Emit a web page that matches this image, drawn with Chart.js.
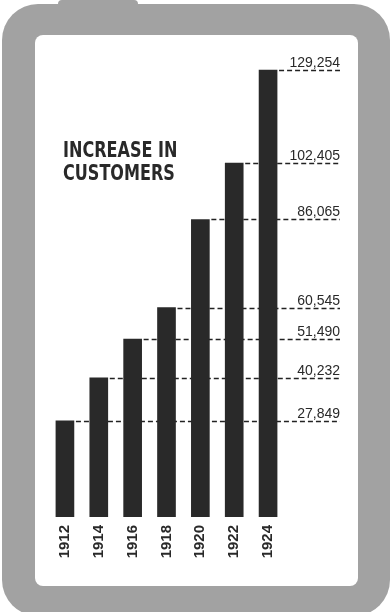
<!DOCTYPE html>
<html>
<head>
<meta charset="utf-8">
<script src="https://cdn.jsdelivr.net/npm/chart.js@4"></script>
<style>
  html, body { margin: 0; padding: 0; background: #fff; overflow: hidden; }
  #page { position: relative; width: 391px; height: 612px; overflow: hidden; }
  .frame { position: absolute; left: 2px; top: 4px; width: 388px; height: 612px; background: #a2a2a2; border-radius: 36px; }
  .bump { position: absolute; left: 58px; top: 0; width: 80px; height: 12px; background: #a2a2a2; border-radius: 4px 4px 0 0; }
  .panel { position: absolute; left: 35px; top: 35px; width: 323px; height: 551px; background: #fff; border-radius: 8px; }
  #chart { position: absolute; left: 0; top: 0; }
</style>
</head>
<body>
<div id="page">
  <div class="bump"></div>
  <div class="frame"></div>
  <div class="panel"></div>
  <canvas id="chart" width="391" height="612"></canvas>
</div>
<script>
"use strict";

var years = ['1912', '1914', '1916', '1918', '1920', '1922', '1924'];
var customers = [27849, 40232, 51490, 60545, 86065, 102405, 129254];
var titleLines = ['INCREASE IN', 'CUSTOMERS'];

var ink = '#292929';
var narrow = '"Liberation Sans Narrow", "DejaVu Sans Condensed", sans-serif';

function $each(arr, fn) {
    for (var i = 0; i < arr.length; i++) fn(arr[i], i);
}

// dashed guide lines from each bar top, drawn behind the bars, then the value labels + title
var guideLines = {
    id: 'guideLines',
    beforeDatasetsDraw: function (chart) {
        var ctx = chart.ctx;
        var meta = chart.getDatasetMeta(0);
        ctx.save();
        ctx.strokeStyle = '#222';
        ctx.lineWidth = 1.3;
        ctx.setLineDash([5, 3]);
        $each(meta.data, function (bar) {
            ctx.beginPath();
            ctx.moveTo(bar.x + bar.width / 2 + 2, Math.round(bar.y) + 0.5);
            ctx.lineTo(340, Math.round(bar.y) + 0.5);
            ctx.stroke();
        });
        ctx.restore();
    },
    afterDatasetsDraw: function (chart) {
        var ctx = chart.ctx;
        var meta = chart.getDatasetMeta(0);
        ctx.save();
        ctx.fillStyle = ink;
        ctx.font = '14px "Liberation Sans", Arial, sans-serif';
        ctx.textAlign = 'right';
        ctx.textBaseline = 'alphabetic';
        $each(meta.data, function (bar, i) {
            ctx.fillText(customers[i].toLocaleString('en-US'), 340, bar.y - 3);
        });
        // title, squeezed a bit to match the narrow poster lettering
        ctx.font = 'bold 21px ' + narrow;
        ctx.textAlign = 'left';
        ctx.translate(63, 0);
        ctx.scale(0.85, 1);
        ctx.fillText(titleLines[0], 0, 157);
        ctx.fillText(titleLines[1], 0, 180);
        ctx.restore();
    }
};

const context = document.getElementById('chart');
const myChart = new Chart(context, {
    type: 'bar',
    data: {
        labels: years,
        datasets: [{
            data: customers,
            backgroundColor: ink,
            barThickness: 18,
            borderWidth: 0
        }]
    },
    options: {
        responsive: false,
        animation: false,
        devicePixelRatio: 1,
        layout: {
            padding: { left: 48, right: 106, top: 33, bottom: 0 }
        },
        plugins: {
            legend: { display: false },
            tooltip: { enabled: false }
        },
        scales: {
            x: {
                grid: { display: false, drawTicks: false },
                border: { display: false },
                ticks: {
                    autoSkip: false,
                    minRotation: 90,
                    maxRotation: 90,
                    padding: 8,
                    color: ink,
                    font: { family: '"Liberation Sans", Arial, sans-serif', size: 15, weight: 'bold' }
                },
                afterFit: function (scale) {
                    scale.height = 95;
                }
            },
            y: {
                display: false,
                min: 0,
                max: 140000
            }
        }
    },
    plugins: [guideLines]
});
</script>
</body>
</html>
